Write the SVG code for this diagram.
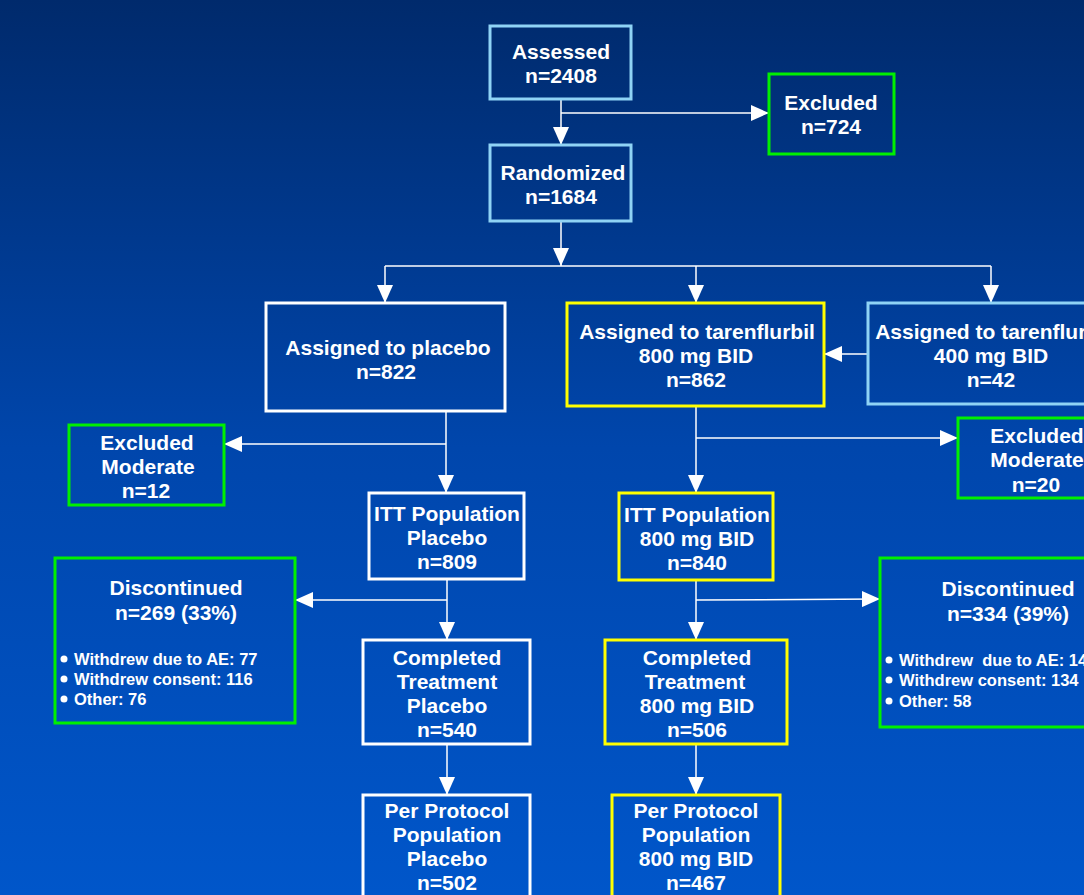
<svg xmlns="http://www.w3.org/2000/svg" width="1084" height="895" viewBox="0 0 1084 895">
<defs>
<linearGradient id="bg" x1="0" y1="0" x2="0" y2="1">
<stop offset="0" stop-color="#002A6C"/>
<stop offset="0.5" stop-color="#0046AC"/>
<stop offset="1" stop-color="#0056CA"/>
</linearGradient>
<marker id="ah" markerUnits="userSpaceOnUse" markerWidth="18" markerHeight="16" viewBox="0 0 18 16" refX="18" refY="8" orient="auto">
<path d="M0,0 L18,8 L0,16 Z" fill="#fff"/>
</marker>
<style>
.box{fill:none;stroke-width:3}
.lb{stroke:#8FD3F5}
.gr{stroke:#00F000}
.wh{stroke:#fff}
.ye{stroke:#FFFF00}
text{font-family:"Liberation Sans",Arial,sans-serif;font-weight:bold;fill:#fff}
.t{font-size:21px;text-anchor:middle}
.b{font-size:16.5px}
.c line{stroke:#fff;stroke-width:1.5;fill:none}
.c .a{marker-end:url(#ah)}
</style>
</defs>
<rect x="0" y="0" width="1084" height="895" fill="url(#bg)"/>

<g class="c" id="connectors">
<line class="a" x1="561" y1="99" x2="561" y2="145"/>
<line class="a" x1="561" y1="113" x2="769" y2="113"/>
<line class="a" x1="561" y1="221" x2="561" y2="266"/>
<line x1="385" y1="266" x2="991" y2="266"/>
<line class="a" x1="385" y1="266" x2="385" y2="303"/>
<line class="a" x1="696" y1="266" x2="696" y2="303"/>
<line class="a" x1="991" y1="266" x2="991" y2="303"/>
<line class="a" x1="868" y1="354" x2="824" y2="354"/>
<line class="a" x1="446" y1="411" x2="446" y2="493"/>
<line class="a" x1="446" y1="444" x2="224" y2="444"/>
<line class="a" x1="696" y1="406" x2="696" y2="493"/>
<line class="a" x1="696" y1="438" x2="958" y2="438"/>
<line class="a" x1="447" y1="579" x2="447" y2="640"/>
<line class="a" x1="447" y1="600" x2="295" y2="600"/>
<line class="a" x1="696" y1="580" x2="696" y2="640"/>
<line class="a" x1="696" y1="600" x2="880" y2="599"/>
<line class="a" x1="447" y1="744" x2="447" y2="795"/>
<line class="a" x1="696" y1="744" x2="696" y2="795"/>
</g>

<g id="assessed">
<rect class="box lb" x="490" y="26" width="141" height="73"/>
<text class="t" x="561" y="59">Assessed</text>
<text class="t" x="561" y="83">n=2408</text>
</g>
<g id="excluded">
<rect class="box gr" x="769" y="74" width="125" height="80"/>
<text class="t" x="831" y="110">Excluded</text>
<text class="t" x="831" y="134">n=724</text>
</g>
<g id="randomized">
<rect class="box lb" x="490" y="145" width="141" height="76"/>
<text class="t" x="563" y="180">Randomized</text>
<text class="t" x="561" y="204">n=1684</text>
</g>
<g id="placebo">
<rect class="box wh" x="266" y="303" width="239" height="108"/>
<text class="t" x="388" y="355">Assigned to placebo</text>
<text class="t" x="386" y="379">n=822</text>
</g>
<g id="t800">
<rect class="box ye" x="567" y="303" width="257" height="103"/>
<text class="t" x="697" y="339">Assigned to tarenflurbil</text>
<text class="t" x="696" y="363">800 mg BID</text>
<text class="t" x="696" y="387">n=862</text>
</g>
<g id="t400">
<rect class="box lb" x="868" y="303" width="246" height="101"/>
<text class="t" x="993" y="339">Assigned to tarenflurbil</text>
<text class="t" x="991" y="363">400 mg BID</text>
<text class="t" x="991" y="387">n=42</text>
</g>
<g id="exclModPlacebo">
<rect class="box gr" x="69" y="425" width="155" height="80"/>
<text class="t" x="147" y="450">Excluded</text>
<text class="t" x="148" y="474">Moderate</text>
<text class="t" x="146" y="498">n=12</text>
</g>
<g id="exclMod800">
<rect class="box gr" x="958" y="418" width="156" height="80"/>
<text class="t" x="1037" y="443">Excluded</text>
<text class="t" x="1037" y="467">Moderate</text>
<text class="t" x="1036" y="492">n=20</text>
</g>
<g id="ittPlacebo">
<rect class="box wh" x="369" y="493" width="155" height="86"/>
<text class="t" x="447" y="521">ITT Population</text>
<text class="t" x="447" y="545">Placebo</text>
<text class="t" x="447" y="569">n=809</text>
</g>
<g id="itt800">
<rect class="box ye" x="619" y="493" width="154" height="87"/>
<text class="t" x="697" y="522">ITT Population</text>
<text class="t" x="697" y="546">800 mg BID</text>
<text class="t" x="697" y="570">n=840</text>
</g>
<g id="discPlacebo">
<rect class="box gr" x="55" y="558" width="240" height="165"/>
<text class="t" x="176" y="595">Discontinued</text>
<text class="t" x="176" y="620">n=269 (33%)</text>
<circle cx="64" cy="659" r="3.5" fill="#fff"/>
<circle cx="64" cy="679" r="3.5" fill="#fff"/>
<circle cx="64" cy="699" r="3.5" fill="#fff"/>
<text class="b" x="74" y="665">Withdrew due to AE: 77</text>
<text class="b" x="74" y="685">Withdrew consent: 116</text>
<text class="b" x="74" y="705">Other: 76</text>
</g>
<g id="disc800">
<rect class="box gr" x="880" y="558" width="240" height="169"/>
<text class="t" x="1008" y="596">Discontinued</text>
<text class="t" x="1008" y="621">n=334 (39%)</text>
<circle cx="889" cy="660" r="3.5" fill="#fff"/>
<circle cx="889" cy="680" r="3.5" fill="#fff"/>
<circle cx="889" cy="701" r="3.5" fill="#fff"/>
<text class="b" x="899" y="666" style="white-space:pre">Withdrew  due to AE: 142</text>
<text class="b" x="899" y="686">Withdrew consent: 134</text>
<text class="b" x="899" y="707">Other: 58</text>
</g>
<g id="compPlacebo">
<rect class="box wh" x="363" y="640" width="167" height="104"/>
<text class="t" x="447" y="665">Completed</text>
<text class="t" x="447" y="689">Treatment</text>
<text class="t" x="447" y="713">Placebo</text>
<text class="t" x="447" y="737">n=540</text>
</g>
<g id="comp800">
<rect class="box ye" x="605" y="640" width="182" height="104"/>
<text class="t" x="697" y="665">Completed</text>
<text class="t" x="695" y="689">Treatment</text>
<text class="t" x="697" y="713">800 mg BID</text>
<text class="t" x="697" y="737">n=506</text>
</g>
<g id="ppPlacebo">
<rect class="box wh" x="363" y="795" width="167" height="110"/>
<text class="t" x="447" y="818">Per Protocol</text>
<text class="t" x="447" y="842">Population</text>
<text class="t" x="447" y="866">Placebo</text>
<text class="t" x="447" y="890">n=502</text>
</g>
<g id="pp800">
<rect class="box ye" x="612" y="795" width="168" height="110"/>
<text class="t" x="696" y="818">Per Protocol</text>
<text class="t" x="696" y="842">Population</text>
<text class="t" x="696" y="866">800 mg BID</text>
<text class="t" x="696" y="890">n=467</text>
</g>
</svg>
